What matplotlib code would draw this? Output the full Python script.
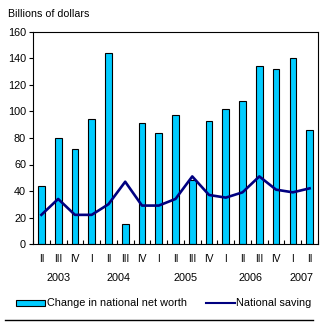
import matplotlib
matplotlib.use("Agg")
import matplotlib.pyplot as plt
from matplotlib.patches import Rectangle
from matplotlib.lines import Line2D
import numpy as np

plt.rcParams['font.family'] = ['Liberation Sans', 'DejaVu Sans']

quarters = ["II", "III", "IV", "I", "II", "III", "IV", "I", "II", "III", "IV",
            "I", "II", "III", "IV", "I", "II"]
years = ["2003", "2004", "2005", "2006", "2007"]
year_pos = [1, 4.6, 8.6, 12.5, 15.5]
net_worth = [44, 80, 72, 94, 144, 15, 91, 84, 97, 48, 93, 102, 108, 134, 132, 140, 86]
saving = [22, 34, 22, 22, 30, 47, 29, 29, 34, 51, 37, 35, 39, 51, 41, 39, 42]
yticks = [0, 20, 40, 60, 80, 100, 120, 140, 160]

W, H = 323, 326
fig = plt.figure(figsize=(W / 100, H / 100), dpi=100)
ax = fig.add_axes([33 / W, 1 - 244 / H, (318 - 33) / W, (244 - 32) / H])

x = np.arange(len(net_worth))
ax.bar(x, net_worth, width=0.4, color='#00CCFF', edgecolor='black', linewidth=0.8, zorder=2)
ax.plot(x, saving, color='#000080', linewidth=1.9, zorder=3)

ax.set_xlim(-0.5, len(net_worth) - 0.5)
ax.set_ylim(0, 160)
ax.set_yticks(yticks)
ax.set_yticklabels([str(v) for v in yticks], fontsize=7.8)
ax.tick_params(axis='y', direction='out', length=3, width=0.8, pad=2)

# category boundary ticks inward
ax.set_xticks(np.arange(len(net_worth) + 1) - 0.5)
ax.set_xticklabels([])
ax.tick_params(axis='x', direction='in', length=3, width=0.8)

for s in ax.spines.values():
    s.set_linewidth(0.8)

for i, q in enumerate(quarters):
    ax.text(i, -11, q, ha='center', va='center', fontsize=7.3)
for yp, yl in zip(year_pos, years):
    ax.text(yp, -26, yl, ha='center', va='center', fontsize=7.8)

fig.text(8 / W, 1 - 14 / H, "Billions of dollars", ha='left', va='center', fontsize=7.7)

# legend
fig.patches.append(Rectangle((16 / W, 1 - 306 / H), 29 / W, 6 / H, transform=fig.transFigure,
                             facecolor='#00CCFF', edgecolor='black', linewidth=0.8))
fig.text(47 / W, 1 - 303 / H, "Change in national net worth", ha='left', va='center', fontsize=7.8)
fig.lines.append(Line2D([206 / W, 235 / W], [1 - 303 / H, 1 - 303 / H], transform=fig.transFigure,
                        color='#000080', linewidth=1.5))
fig.text(236 / W, 1 - 303 / H, "National saving", ha='left', va='center', fontsize=7.8)
fig.lines.append(Line2D([5 / W, 313 / W], [1 - 320 / H, 1 - 320 / H], transform=fig.transFigure,
                        color='black', linewidth=1.0))

fig.savefig("out.png", dpi=100)
